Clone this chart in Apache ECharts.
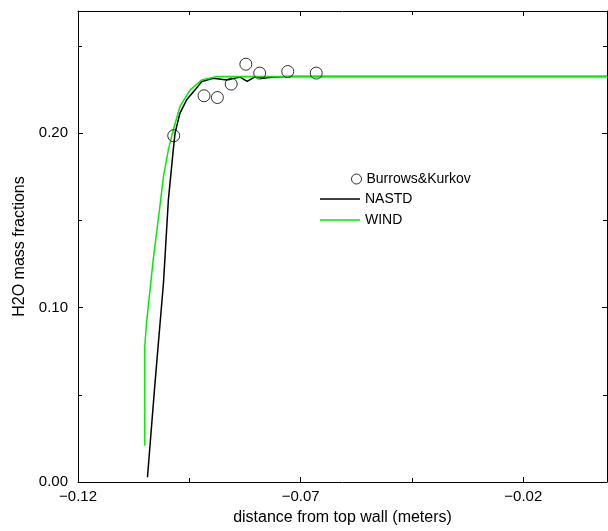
<!DOCTYPE html>
<html>
<head>
<meta charset="utf-8">
<script src="https://cdn.jsdelivr.net/npm/echarts@6/dist/echarts.min.js"></script>
<style>html,body{margin:0;padding:0;background:#fff}#c{width:608px;height:531px}</style>
</head>
<body>
<div id="c"></div>
<script>
// Burrows & Kurkov experimental points
const obsX = [-0.0985, -0.0917, -0.0887, -0.0856, -0.0823, -0.0792, -0.0729, -0.0665];
const obsY = [0.1985, 0.2214, 0.2204, 0.2281, 0.2395, 0.2344, 0.2353, 0.2344];
// NASTD
const nastdX = [-0.1044, -0.1027, -0.1008, -0.0997, -0.0986, -0.0982, -0.0971, -0.0956, -0.0937, -0.0922, -0.0896, -0.0866, -0.0836, -0.0820, -0.0802, -0.0784, -0.0761, -0.0724, -0.0012];
const nastdY = [0.0027, 0.0570, 0.1142, 0.1619, 0.1905, 0.2001, 0.2115, 0.2191, 0.2248, 0.2296, 0.2315, 0.2305, 0.2321, 0.2296, 0.2324, 0.2315, 0.2321, 0.2324, 0.2324];
// WIND
const windX = [-0.1050, -0.1050, -0.1046, -0.1031, -0.1016, -0.1008, -0.0997, -0.0986, -0.0971, -0.0948, -0.0922, -0.0888, -0.0012];
const windY = [0.0208, 0.0780, 0.0914, 0.1276, 0.1581, 0.1752, 0.1905, 0.2019, 0.2153, 0.2248, 0.2305, 0.2324, 0.2324];

const xTicks = [-0.12, -0.07, -0.02];
const yTicks = [0.00, 0.10, 0.20];

const pairs = (xs, ys) => xs.map((x, i) => [x, ys[i]]);
const FONT = '"Liberation Sans", Arial, sans-serif';

const chart = echarts.init(document.getElementById('c'), null, {renderer: 'canvas'});
const axisLineStyle = {color: '#000', width: 1};
const tickCommon = {show: true, inside: true, length: 5, lineStyle: {color: '#000', width: 1}};
const minorCommon = {show: true, splitNumber: 2, length: 4, lineStyle: {color: '#000', width: 1}};

chart.setOption({
  animation: false,
  backgroundColor: '#fff',
  grid: {left: 78, top: 11, right: 1, bottom: 48, containLabel: false},
  legend: [
    {
      data: ['Burrows&Kurkov'],
      left: 351, top: 172, padding: 0,
      itemWidth: 10, itemHeight: 10,
      itemStyle: {borderWidth: 1, borderColor: '#000', color: 'rgba(255,255,255,0)'},
      textStyle: {fontFamily: FONT, fontSize: 14, color: '#000'}
    },
    {
      data: [{name: 'NASTD', icon: 'rect'}, {name: 'WIND', icon: 'rect'}],
      orient: 'vertical',
      left: 320, top: 192, padding: 0,
      itemWidth: 40, itemHeight: 1.5, itemGap: 7,
      textStyle: {fontFamily: FONT, fontSize: 14, color: '#000'}
    }
  ],
  xAxis: [
    {
      type: 'value', position: 'bottom',
      min: -0.12, max: -0.0012, interval: 0.05,
      name: 'distance from top wall (meters)',
      nameLocation: 'middle', nameGap: 28,
      nameTextStyle: {fontFamily: FONT, fontSize: 16, color: '#000'},
      axisLine: {show: true, onZero: false, lineStyle: axisLineStyle},
      axisTick: tickCommon,
      minorTick: minorCommon,
      splitLine: {show: false},
      axisLabel: {
        fontFamily: FONT, fontSize: 15, color: '#000', margin: 7,
        showMaxLabel: false,
        formatter: v => xTicks.some(t => Math.abs(t - v) < 1e-9) ? v.toFixed(2).replace('-', '\u2212') : ''
      }
    },
    {
      type: 'value', position: 'top',
      min: -0.12, max: -0.0012, interval: 0.05,
      axisLine: {show: true, onZero: false, lineStyle: axisLineStyle},
      axisTick: tickCommon,
      minorTick: minorCommon,
      splitLine: {show: false},
      axisLabel: {show: false}
    }
  ],
  yAxis: [
    {
      type: 'value', position: 'left',
      min: 0, max: 0.27, interval: 0.1,
      name: 'H2O mass fractions',
      nameLocation: 'middle', nameGap: 46,
      nameTextStyle: {fontFamily: FONT, fontSize: 16, color: '#000'},
      axisLine: {show: true, onZero: false, lineStyle: axisLineStyle},
      axisTick: tickCommon,
      minorTick: minorCommon,
      splitLine: {show: false},
      axisLabel: {
        fontFamily: FONT, fontSize: 15, color: '#000', margin: 10,
        showMaxLabel: false,
        formatter: v => yTicks.some(t => Math.abs(t - v) < 1e-9) ? v.toFixed(2) : ''
      }
    },
    {
      type: 'value', position: 'right',
      min: 0, max: 0.27, interval: 0.1,
      axisLine: {show: true, onZero: false, lineStyle: axisLineStyle},
      axisTick: tickCommon,
      minorTick: minorCommon,
      splitLine: {show: false},
      axisLabel: {show: false}
    }
  ],
  series: [
    {
      name: 'Burrows&Kurkov', type: 'scatter',
      xAxisIndex: 0, yAxisIndex: 0,
      symbol: 'circle', symbolSize: 12,
      itemStyle: {color: 'rgba(255,255,255,0)', borderColor: '#000', borderWidth: 1},
      data: pairs(obsX, obsY),
      z: 5
    },
    {
      name: 'NASTD', type: 'line',
      xAxisIndex: 0, yAxisIndex: 0,
      symbol: 'none', showSymbol: false,
      itemStyle: {color: '#000'},
      lineStyle: {color: '#000', width: 1.5},
      data: pairs(nastdX, nastdY),
      z: 3
    },
    {
      name: 'WIND', type: 'line',
      xAxisIndex: 0, yAxisIndex: 0,
      symbol: 'none', showSymbol: false,
      itemStyle: {color: '#00ee00'},
      lineStyle: {color: '#00ee00', width: 1.5},
      data: pairs(windX, windY),
      z: 4
    }
  ]
});
</script>
</body>
</html>
